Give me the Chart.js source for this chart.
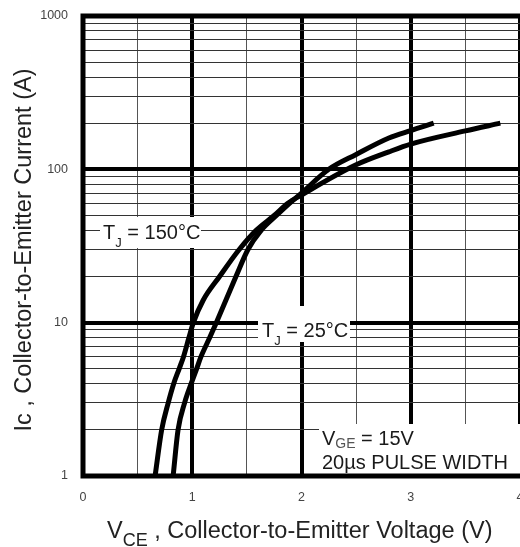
<!DOCTYPE html>
<html>
<head>
<meta charset="utf-8">
<script src="https://cdn.jsdelivr.net/npm/chart.js@4.4.1/dist/chart.umd.min.js"></script>
<style>
  body { margin: 0; background: #fff; }
  canvas { display: block; }
</style>
</head>
<body>
<canvas id="ivChart" width="520" height="547"></canvas>
<script>
// readings from the curve, Ic (A) vs VCE (V), VGE = 15V
var vce150 = [0.66, 0.72, 0.78, 0.83, 0.88, 0.92, 0.97, 1.01, 1.10, 1.25, 1.43, 1.585, 1.75, 1.875, 2.0, 2.5, 2.8, 3.0, 3.5, 3.82];
var ic150  = [1, 2, 3, 4, 5, 6, 8, 10, 14, 20, 30, 40, 50, 60, 68, 107, 130, 146, 178, 200];
var vce25  = [0.825, 0.87, 0.93, 0.99, 1.04, 1.08, 1.16, 1.22, 1.40, 1.51, 1.63, 1.77, 1.89, 2.0, 2.25, 2.5, 2.8, 3.0, 3.21];
var ic25   = [1, 2, 3, 4, 5, 6, 8, 10, 20, 30, 40, 50, 60, 70, 100, 125, 160, 179, 200];

var xTickLabels = ['0', '1', '2', '3', '4'];
var yTickLabels = ['1', '10', '100', '1000'];

var FONT = "'Liberation Sans', Arial, Helvetica, sans-serif";

function toPoints(xs, ys) {
    return xs.map(function (v, i) { return { x: v, y: ys[i] }; });
}

function isDecade(v) {
    return yTickLabels.indexOf(String(v)) !== -1;
}

// draws text pieces left to right, each with its own size / baseline offset
function drawParts(ctx, x, y, parts) {
    ctx.textAlign = 'left';
    ctx.textBaseline = 'alphabetic';
    parts.forEach(function (p) {
        ctx.font = p.size + 'px ' + FONT;
        ctx.fillStyle = p.color || '#1a1a1a';
        ctx.fillText(p.t, x, y + (p.dy || 0));
        x = x + ctx.measureText(p.t).width;
    });
}

var annotations = {
    id: 'annotations',
    afterDatasetsDraw: function (chart) {
        var ctx = chart.ctx;
        var a = chart.chartArea;
        ctx.save();

        // white label boxes sitting on the grid
        ctx.fillStyle = '#fff';
        ctx.fillRect(100, 217, 101, 31);
        ctx.fillRect(258, 306, 92, 36);
        ctx.fillRect(319, 424, 205, 52);

        drawParts(ctx, 103, 239, [
            { t: 'T', size: 20 },
            { t: 'J', size: 13, dy: 8 },
            { t: ' = 150°C', size: 20 }
        ]);
        drawParts(ctx, 262, 337, [
            { t: 'T', size: 20 },
            { t: 'J', size: 13, dy: 8 },
            { t: ' = 25°C', size: 20 }
        ]);
        drawParts(ctx, 322, 445, [
            { t: 'V', size: 20 },
            { t: 'GE', size: 14, dy: 3, color: '#555' },
            { t: ' = 15V', size: 20 }
        ]);
        drawParts(ctx, 322, 469, [{ t: '20µs PULSE WIDTH', size: 20 }]);

        // frame
        ctx.strokeStyle = '#000';
        ctx.lineWidth = 5;
        ctx.strokeRect(a.left, a.top, a.right - a.left + 4, a.bottom - a.top);

        // axis titles
        drawParts(ctx, 107, 538, [
            { t: 'V', size: 23.5, color: '#222' },
            { t: 'CE', size: 18, dy: 8, color: '#222' },
            { t: ' , Collector-to-Emitter Voltage (V)', size: 23.5, color: '#222' }
        ]);

        ctx.translate(31, (a.top + a.bottom) / 2 + 4);
        ctx.rotate(-Math.PI / 2);
        ctx.font = '23.5px ' + FONT;
        ctx.fillStyle = '#222';
        ctx.textAlign = 'center';
        ctx.textBaseline = 'alphabetic';
        ctx.fillText('Ic , Collector-to-Emitter Current (A)', 0, 0);
        ctx.restore();
    }
};

var yGrid = [];
[1, 10, 100].forEach(function (d) {
    for (var k = 1; k <= 9; k++) yGrid.push(k * d);
});
yGrid.push(1000);

new Chart(document.getElementById('ivChart'), {
    type: 'line',
    data: {
        datasets: [
            {
                label: 'TJ = 150°C',
                data: toPoints(vce150, ic150),
                borderColor: '#000',
                borderWidth: 5,
                pointRadius: 0,
                fill: false,
                cubicInterpolationMode: 'monotone'
            },
            {
                label: 'TJ = 25°C',
                data: toPoints(vce25, ic25),
                borderColor: '#000',
                borderWidth: 5,
                pointRadius: 0,
                fill: false,
                cubicInterpolationMode: 'monotone'
            }
        ]
    },
    options: {
        responsive: false,
        animation: false,
        layout: { padding: { top: 16, right: -2, bottom: 0, left: 0 } },
        plugins: {
            legend: { display: false },
            tooltip: { enabled: false }
        },
        scales: {
            x: {
                type: 'linear',
                min: 0,
                max: 4,
                border: { display: false },
                grid: {
                    drawTicks: false,
                    lineWidth: function (c) { return c.tick && c.tick.value % 1 === 0 ? 4 : 1; },
                    color: function (c) { return c.tick && c.tick.value % 1 === 0 ? '#000' : '#555'; }
                },
                ticks: {
                    stepSize: 0.5,
                    autoSkip: false,
                    maxRotation: 0,
                    padding: 14,
                    color: '#444',
                    font: { family: FONT, size: 12.5 },
                    callback: function (v) {
                        return v % 1 === 0 ? xTickLabels[v] : '';
                    }
                },
                afterFit: function (scale) {
                    scale.height = 71;
                    scale.paddingLeft = 0;
                    scale.paddingRight = 0;
                }
            },
            y: {
                type: 'logarithmic',
                min: 1,
                max: 1000,
                border: { display: false },
                grid: {
                    drawTicks: false,
                    lineWidth: function (c) { return c.tick && isDecade(c.tick.value) ? 4 : 1; },
                    color: function (c) { return c.tick && isDecade(c.tick.value) ? '#000' : '#333'; }
                },
                afterBuildTicks: function (scale) {
                    scale.ticks = yGrid.map(function (v) { return { value: v }; });
                },
                ticks: {
                    autoSkip: false,
                    padding: 15,
                    color: '#444',
                    font: { family: FONT, size: 12.5 },
                    callback: function (v) {
                        return isDecade(v) ? String(v) : '';
                    }
                },
                afterFit: function (scale) {
                    scale.width = 83;
                    scale.paddingTop = 0;
                    scale.paddingBottom = 0;
                }
            }
        }
    },
    plugins: [annotations]
});
</script>
</body>
</html>
